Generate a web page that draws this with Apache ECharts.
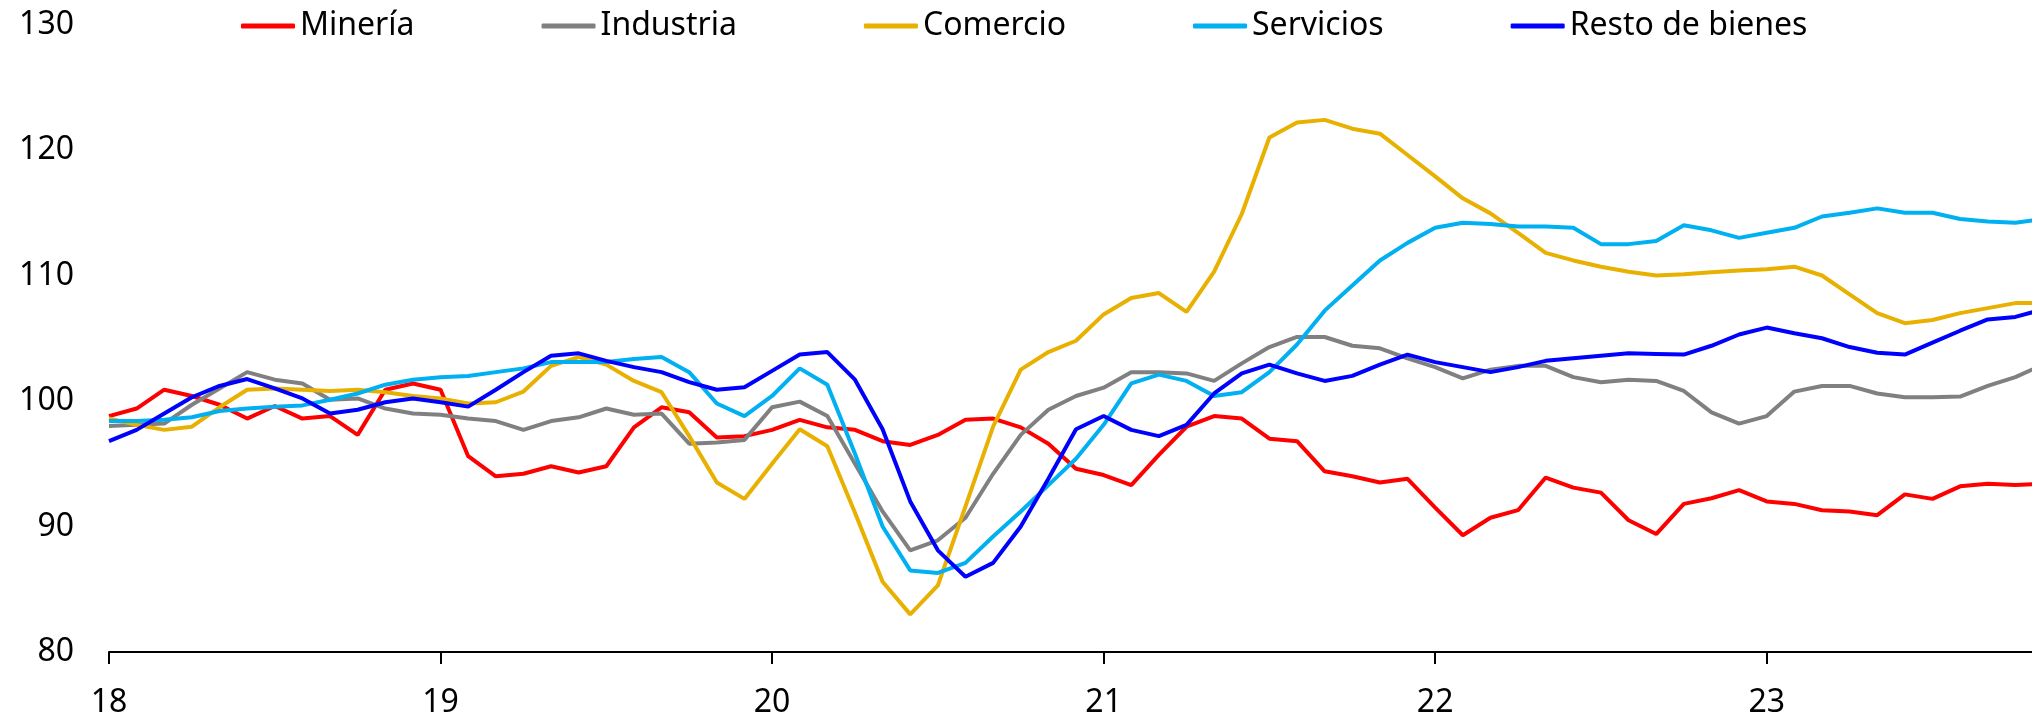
<!DOCTYPE html>
<html>
<head>
<meta charset="utf-8">
<script src="https://cdn.jsdelivr.net/npm/echarts@6/dist/echarts.min.js"></script>
<style>
html,body{margin:0;padding:0;background:#fff;}
#chart{width:2032px;height:716px;}
</style>
</head>
<body>
<div id="chart"></div>
<script>
// Monthly categories Jan-2018 .. Nov-2023
const yearLabels = ['18', '19', '20', '21', '22', '23'];
const monthNames = ['ene','feb','mar','abr','may','jun','jul','ago','sep','oct','nov','dic'];
const categories = [];
yearLabels.forEach(function (y) {
  monthNames.forEach(function (m) { categories.push(m + '-' + y); });
});
categories.length = 71;

const seriesNames = ['Minería', 'Industria', 'Comercio', 'Servicios', 'Resto de bienes'];

const mineria = [
  98.8, 99.4, 100.9, 100.4, 99.7, 98.6, 99.6, 98.6, 98.8, 97.3, 100.9, 101.4,
  100.9, 95.6, 94.0, 94.2, 94.8, 94.3, 94.8, 97.9, 99.5, 99.1, 97.1, 97.2,
  97.7, 98.5, 97.9, 97.7, 96.8, 96.5, 97.3, 98.5, 98.6, 97.9, 96.6, 94.6,
  94.1, 93.3, 95.7, 97.95, 98.8, 98.6, 97.0, 96.8, 94.4, 94.0, 93.5, 93.8,
  91.5, 89.3, 90.7, 91.3, 93.9, 93.1, 92.7, 90.5, 89.4, 91.8, 92.25, 92.9,
  92.0, 91.8, 91.3, 91.2, 90.9, 92.56, 92.2, 93.2, 93.4, 93.3, 93.4
];
const industria = [
  98.0, 98.1, 98.2, 99.7, 101.0, 102.3, 101.7, 101.4, 100.1, 100.2, 99.4, 99.0,
  98.9, 98.6, 98.4, 97.7, 98.4, 98.7, 99.4, 98.9, 99.0, 96.6, 96.7, 96.9,
  99.5, 99.95, 98.8, 95.0, 91.2, 88.1, 88.9, 90.7, 94.2, 97.3, 99.3, 100.4,
  101.06, 102.3, 102.3, 102.2, 101.6, 103.0, 104.3, 105.1, 105.1, 104.4, 104.2, 103.4,
  102.7, 101.8, 102.5, 102.8, 102.8, 101.9, 101.5, 101.7, 101.6, 100.8, 99.1, 98.2,
  98.8, 100.75, 101.2, 101.2, 100.6, 100.3, 100.3, 100.35, 101.2, 101.9, 102.9
];
const comercio = [
  98.6, 98.1, 97.7, 97.95, 99.5, 100.9, 101.0, 100.9, 100.8, 100.9, 100.7, 100.4,
  100.2, 99.8, 99.9, 100.75, 102.8, 103.5, 102.9, 101.6, 100.7, 97.2, 93.5, 92.2,
  95.0, 97.75, 96.4, 91.1, 85.6, 83.0, 85.3, 91.6, 97.96, 102.5, 103.9, 104.8,
  106.9, 108.2, 108.6, 107.1, 110.3, 114.9, 121.0, 122.2, 122.4, 121.7, 121.3, 119.6,
  117.9, 116.15, 114.95, 113.4, 111.8, 111.2, 110.7, 110.3, 110.0, 110.1, 110.25, 110.4,
  110.5, 110.7, 110.0, 108.5, 107.0, 106.2, 106.45, 107.0, 107.4, 107.8, 107.8
];
const servicios = [
  98.4, 98.4, 98.5, 98.7, 99.2, 99.4, 99.55, 99.65, 100.1, 100.6, 101.3, 101.7,
  101.9, 102.0, 102.3, 102.6, 103.1, 103.1, 103.1, 103.35, 103.5, 102.3, 99.8, 98.8,
  100.4, 102.6, 101.3, 95.8, 90.0, 86.5, 86.3, 87.1, 89.2, 91.2, 93.3, 95.4,
  98.1, 101.4, 102.1, 101.6, 100.4, 100.7, 102.3, 104.5, 107.2, 109.2, 111.2, 112.6,
  113.8, 114.2, 114.1, 113.9, 113.9, 113.8, 112.5, 112.5, 112.75, 114.0, 113.6, 113.0,
  113.4, 113.8, 114.7, 115.0, 115.35, 115.0, 115.0, 114.5, 114.3, 114.2, 114.5
];
const restoBienes = [
  96.8, 97.7, 99.0, 100.3, 101.2, 101.75, 101.0, 100.2, 99.0, 99.3, 99.9, 100.2,
  99.9, 99.55, 100.9, 102.3, 103.6, 103.8, 103.2, 102.7, 102.3, 101.5, 100.9, 101.1,
  102.4, 103.7, 103.9, 101.7, 97.75, 92.0, 88.1, 86.0, 87.1, 90.0, 93.8, 97.75,
  98.8, 97.7, 97.2, 98.1, 100.6, 102.2, 102.9, 102.2, 101.6, 102.0, 102.9, 103.7,
  103.1, 102.7, 102.3, 102.7, 103.2, 103.4, 103.6, 103.8, 103.75, 103.7, 104.4, 105.3,
  105.85, 105.4, 105.0, 104.3, 103.85, 103.7, 104.65, 105.6, 106.5, 106.7, 107.3
];

const values = [mineria, industria, comercio, servicios, restoBienes];
const colors = ['#FF0000', '#808080', '#E8B000', '#00B0F0', '#0000FF'];
const FONT = 'Noto Sans';

const chart = echarts.init(document.getElementById('chart'), null, {renderer: 'canvas'});
chart.setOption({
  animation: false,
  backgroundColor: '#ffffff',
  legend: {
    left: 241,
    top: 10,
    padding: 0,
    itemGap: 127,
    itemWidth: 54,
    itemHeight: 5,
    icon: 'roundRect',
    textStyle: {fontFamily: FONT, fontSize: 32, color: '#000'},
    data: seriesNames
  },
  grid: {
    left: 109,
    top: 24.5,
    width: 1934,
    height: 627.5,
    outerBoundsMode: 'none'
  },
  xAxis: {
    type: 'category',
    boundaryGap: false,
    data: categories,
    axisLine: {show: true, lineStyle: {color: '#000', width: 2}},
    axisTick: {
      show: true, length: 12, inside: false,
      lineStyle: {color: '#000', width: 2},
      interval: function (i) { return i % 12 === 0; }
    },
    axisLabel: {
      interval: function (i) { return i % 12 === 0; },
      formatter: function (v, i) { return i % 12 === 0 ? yearLabels[i / 12] : ''; },
      fontFamily: FONT, fontSize: 32, color: '#000', margin: 35
    },
    splitLine: {show: false}
  },
  yAxis: {
    type: 'value',
    min: 80, max: 130, interval: 10,
    axisLine: {show: false},
    axisTick: {show: false},
    splitLine: {show: false},
    axisLabel: {fontFamily: FONT, fontSize: 32, color: '#000', margin: 35}
  },
  series: seriesNames.map(function (name, k) {
    return {
      name: name,
      type: 'line',
      data: values[k],
      showSymbol: false,
      symbol: 'none',
      color: colors[k],
      lineStyle: {color: colors[k], width: 4},
      itemStyle: {color: colors[k]}
    };
  })
});
</script>
</body>
</html>
